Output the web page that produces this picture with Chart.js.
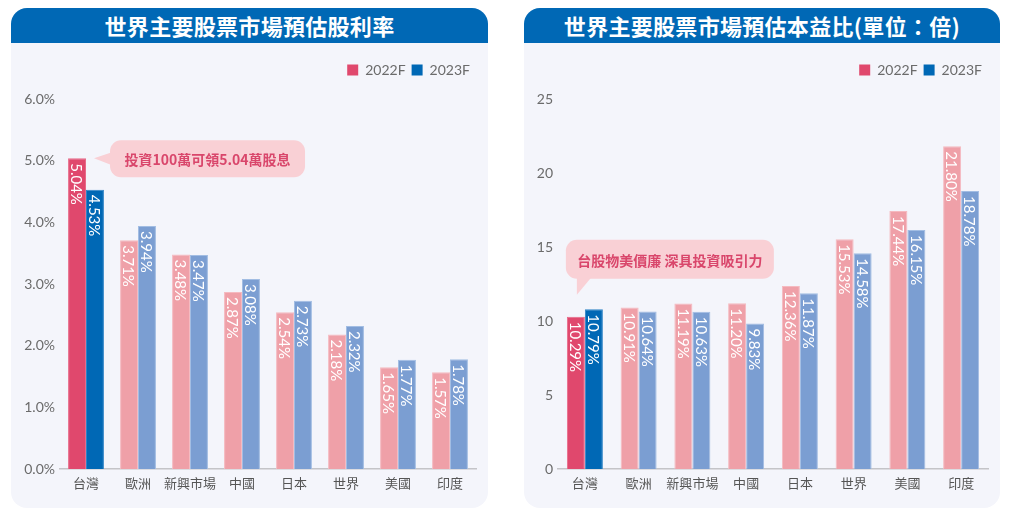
<!DOCTYPE html>
<html>
<head>
<meta charset="utf-8">
<script src="https://cdn.jsdelivr.net/npm/chart.js@4"></script>
<style>
    body {
        margin: 0;
        width: 1009px;
        height: 515px;
        background: #ffffff;
        position: relative;
        font-family: Lato, "Noto Sans CJK TC", sans-serif;
    }
    .card {
        position: absolute;
        top: 8px;
        height: 500px;
        background: #f4f5fb;
        border-radius: 16px;
        overflow: hidden;
    }
    .card-title {
        height: 35px;
        line-height: 35px;
        background: #0068b5;
        color: #ffffff;
        text-align: center;
        font-family: "Noto Sans CJK TC", sans-serif;
        font-weight: 700;
        font-size: 22px;
        letter-spacing: 0.3px;
    }
    .chart-box {
        position: absolute;
        top: 35px;
        left: 0;
        right: 0;
        bottom: 0;
    }
</style>
</head>
<body>
<div class="card" style="left: 11px; width: 477px;">
    <div class="card-title">世界主要股票市場預估股利率</div>
    <div class="chart-box"><canvas id="yieldChart"></canvas></div>
</div>
<div class="card" style="left: 524px; width: 476px;">
    <div class="card-title">世界主要股票市場預估本益比(單位：倍)</div>
    <div class="chart-box"><canvas id="peChart"></canvas></div>
</div>

<script>
const categories = ["台灣", "歐洲", "新興市場", "中國", "日本", "世界", "美國", "印度"];
const seriesNames = ["2022F", "2023F"];

// 預估股利率 (%)
const yield2022 = [5.04, 3.71, 3.48, 2.87, 2.54, 2.18, 1.65, 1.57];
const yield2023 = [4.53, 3.94, 3.47, 3.08, 2.73, 2.32, 1.77, 1.78];

// 預估本益比 (倍)
const pe2022 = [10.29, 10.91, 11.19, 11.2, 12.36, 15.53, 17.44, 21.8];
const pe2023 = [10.79, 10.64, 10.63, 9.83, 11.87, 14.58, 16.15, 18.78];

const yieldTicks = { max: 6, step: 1 };
const peTicks = { max: 25, step: 5 };

const yieldNote = "投資100萬可領5.04萬股息";
const peNote = "台股物美價廉 深具投資吸引力";

const colors = {
    pinkStrong: "#e0486d",
    pinkLight: "#efa0a8",
    blueStrong: "#0068b5",
    blueLight: "#7b9ed2",
    pinkStrongEdge: "#e86a88",
    pinkLightEdge: "#f5bac0",
    blueStrongEdge: "#2f84c6",
    blueLightEdge: "#a2bde3",
};

const FONT = 'Lato, "Noto Sans CJK TC", sans-serif';
const CJK = '"Noto Sans CJK TC", sans-serif';

// first category (台灣) is highlighted, others use the light tone
function barColors(values, strong, light) {
    return values.map((v, i) => (i === 0 ? strong : light));
}

// rotated value labels inside the top of each bar
const valueLabels = {
    id: "valueLabels",
    afterDatasetsDraw(chart) {
        const ctx = chart.ctx;
        chart.data.datasets.forEach((ds, di) => {
            const meta = chart.getDatasetMeta(di);
            meta.data.forEach((bar, i) => {
                ctx.save();
                ctx.translate(bar.x, bar.y + 5);
                ctx.rotate(Math.PI / 2);
                ctx.fillStyle = "#ffffff";
                ctx.font = "15px " + FONT;
                ctx.textAlign = "left";
                ctx.textBaseline = "middle";
                ctx.fillText(ds.data[i].toFixed(2) + "%", 0, 1);
                ctx.restore();
            });
        });
    },
};

// extra room between legend and plot
const legendGap = {
    id: "legendGap",
    beforeInit(chart) {
        const fit = chart.legend.fit;
        chart.legend.fit = function () {
            fit.call(this);
            this.height += 12;
        };
    },
};

// speech bubble anchored on the 台灣 2022F bar
const callout = {
    id: "callout",
    afterDraw(chart, args, opts) {
        if (!opts || !opts.text) return;
        const ctx = chart.ctx;
        const bar = chart.getDatasetMeta(0).data[0];
        let box, tail;
        if (opts.side === "left") {
            const tipX = bar.x + 17, tipY = bar.y;
            box = { x: tipX + 16, y: tipY - 18, w: 195, h: 37 };
            tail = [[tipX, tipY], [box.x + 2, tipY - 6], [box.x + 2, tipY + 7]];
        } else {
            const tipX = bar.x + 1, tipY = bar.y - 22;
            box = { x: bar.x - 10, y: tipY - 55, w: 208, h: 39 };
            tail = [[tipX, tipY], [tipX, box.y + box.h - 2], [tipX + 15, box.y + box.h - 2]];
        }
        ctx.save();
        ctx.fillStyle = "#f9d0d5";
        ctx.beginPath();
        ctx.roundRect(box.x, box.y, box.w, box.h, 11);
        ctx.fill();
        ctx.beginPath();
        ctx.moveTo(tail[0][0], tail[0][1]);
        ctx.lineTo(tail[1][0], tail[1][1]);
        ctx.lineTo(tail[2][0], tail[2][1]);
        ctx.closePath();
        ctx.fill();
        ctx.fillStyle = "#d9466b";
        ctx.font = "bold 14px " + CJK;
        ctx.textAlign = "center";
        ctx.textBaseline = "middle";
        ctx.fillText(opts.text, box.x + box.w / 2, box.y + box.h / 2 + 1);
        ctx.restore();
    },
};

function makeChart(canvasId, v2022, v2023, ticks, tickFmt, axisWidth, catPct, note, side) {
    const ctx = document.getElementById(canvasId).getContext("2d");
    return new Chart(ctx, {
        type: "bar",
        data: {
            labels: categories,
            datasets: [
                {
                    label: seriesNames[0],
                    data: v2022,
                    backgroundColor: barColors(v2022, colors.pinkStrong, colors.pinkLight),
                    borderColor: barColors(v2022, colors.pinkStrongEdge, colors.pinkLightEdge),
                    borderWidth: 1,
                    legendColor: colors.pinkStrong,
                },
                {
                    label: seriesNames[1],
                    data: v2023,
                    backgroundColor: barColors(v2023, colors.blueStrong, colors.blueLight),
                    borderColor: barColors(v2023, colors.blueStrongEdge, colors.blueLightEdge),
                    borderWidth: 1,
                    legendColor: colors.blueStrong,
                },
            ],
        },
        options: {
            responsive: true,
            maintainAspectRatio: false,
            animation: false,
            datasets: {
                bar: { categoryPercentage: catPct, barPercentage: 1.0 },
            },
            layout: { padding: { left: 0, right: 12, top: 14, bottom: 0 } },
            plugins: {
                legend: {
                    position: "top",
                    align: "end",
                    labels: {
                        boxWidth: 11,
                        boxHeight: 11,
                        padding: 6,
                        color: "#6b6b6b",
                        font: { size: 14, family: FONT },
                        generateLabels: (chart) =>
                            chart.data.datasets.map((ds, i) => ({
                                text: ds.label,
                                fillStyle: ds.legendColor,
                                strokeStyle: ds.legendColor,
                                lineWidth: 0,
                                hidden: false,
                                datasetIndex: i,
                                fontColor: "#6b6b6b",
                            })),
                    },
                },
                tooltip: { enabled: false },
                callout: { text: note, side: side },
            },
            scales: {
                x: {
                    grid: { display: false, drawTicks: false },
                    border: { color: "#c4c4c8", width: 1.5 },
                    ticks: {
                        color: "#555555",
                        padding: 6,
                        maxRotation: 0,
                        minRotation: 0,
                        autoSkip: false,
                        font: { size: 13, family: CJK },
                    },
                    afterFit(scale) {
                        scale.height = 39;
                    },
                },
                y: {
                    min: 0,
                    max: ticks.max,
                    grid: { display: false, drawTicks: false },
                    border: { display: false },
                    ticks: {
                        stepSize: ticks.step,
                        color: "#6b6b6b",
                        padding: 5,
                        font: { size: 14, family: FONT },
                        callback: tickFmt,
                    },
                    afterFit(scale) {
                        scale.width = axisWidth;
                    },
                },
            },
        },
        plugins: [valueLabels, callout, legendGap],
    });
}

makeChart("yieldChart", yield2022, yield2023, yieldTicks,
    (v) => v.toFixed(1) + "%", 49, 0.69, yieldNote, "left");
makeChart("peChart", pe2022, pe2023, peTicks,
    (v) => v, 34, 0.67, peNote, "top");
</script>
</body>
</html>
